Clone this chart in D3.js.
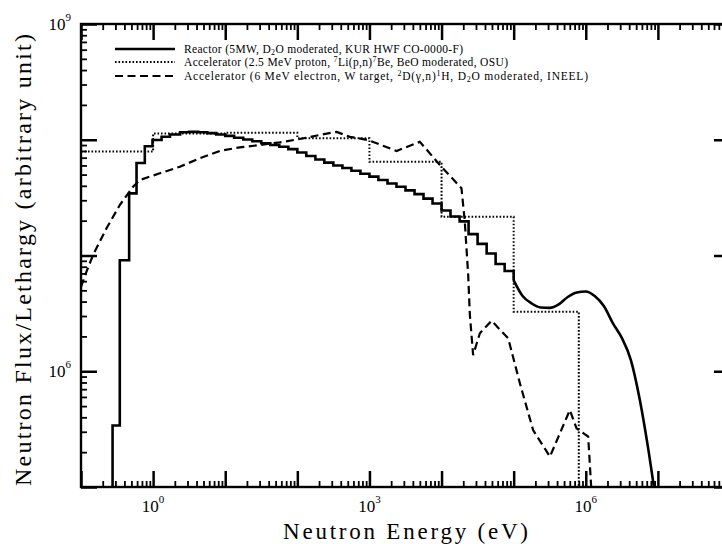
<!DOCTYPE html>
<html>
<head>
<meta charset="utf-8">
<script src="https://cdn.jsdelivr.net/npm/d3@7"></script>
<style>
  body { margin: 0; background: #fff; }
  svg { display: block; }
</style>
</head>
<body>
<script>
var width = 722;
var height = 544;

// plot box
var plotLeft = 81, plotRight = 730, plotTop = 24, plotBottom = 487;

// Reactor (stepped histogram, smooth above 100 keV)
var reactorE = [0.274, 0.345, 0.465, 0.589, 0.767, 0.98, 1.31, 1.71, 2.37, 3.16,
                4.22, 5.62, 7.5, 10, 13.3, 17.8, 23.7, 31.6, 42.2, 56.2,
                75, 100, 133, 178, 237, 316, 422, 562, 750, 1000,
                1330, 1780, 2370, 3160, 4220, 5620, 7500, 1e4, 1.33e4, 1.78e4,
                2.37e4, 3.16e4, 4.22e4, 5.62e4, 7.5e4, 1e5, 1.33e5, 1.78e5, 2.37e5, 3.16e5,
                4.22e5, 5.62e5, 7.5e5, 1e6, 1.33e6, 1.78e6, 2.37e6, 3.16e6, 4.22e6, 5.62e6,
                7.5e6, 9.3e6];
var reactorFlux = [3.4e5, 9.1e6, 3.44e7, 6.3e7, 8.8e7, 9.95e7, 1.06e8, 1.11e8, 1.16e8, 1.17e8,
                   1.16e8, 1.14e8, 1.11e8, 1.08e8, 1.04e8, 1.005e8, 9.7e7, 9.33e7, 9.0e7, 8.7e7,
                   8.3e7, 7.76e7, 7.24e7, 6.75e7, 6.35e7, 6.0e7, 5.7e7, 5.4e7, 5.08e7, 4.8e7,
                   4.49e7, 4.19e7, 3.93e7, 3.65e7, 3.39e7, 3.1e7, 2.81e7, 2.45e7, 2.17e7, 1.97e7,
                   1.53e7, 1.26e7, 1.04e7, 8.45e6, 7.35e6, 6.1e6, 4.47e6, 3.85e6, 3.56e6, 3.53e6,
                   3.78e6, 4.38e6, 4.79e6, 4.89e6, 4.47e6, 3.66e6, 2.61e6, 1.94e6, 1.25e6, 5.65e5,
                   1.97e5, 8e4];
var reactorSmoothFrom = 1e5;

// Accelerator, 2.5 MeV proton (bins)
var protonEdges = [0.1, 1, 10, 100, 1e3, 1e4, 1e5, 8e5];
var protonFlux = [7.9e7, 1.13e8, 1.15e8, 1.03e8, 6.45e7, 2.16e7, 3.27e6];

// Accelerator, 6 MeV electron
var electronE = [0.1, 0.119, 0.147, 0.226, 0.345, 0.528, 0.654, 1.24, 2.35, 4.45,
                 8.42, 15.9, 30.2, 57.2, 108, 205, 350, 535, 959, 2380,
                 5000, 9480, 1.89e4, 2.1e4, 2.34e4, 2.47e4, 2.74e4, 3.4e4, 4.93e4, 8.39e4,
                 1.22e5, 1.86e5, 3.18e5, 6.01e5, 7.45e5, 1.08e6, 1.27e6];
var electronFlux = [5.35e6, 7.24e6, 1.01e7, 1.72e7, 2.73e7, 3.93e7, 4.49e7, 5.13e7, 5.85e7, 6.92e7,
                    8.0e7, 8.6e7, 9.0e7, 9.5e7, 1.015e8, 1.10e8, 1.17e8, 1.06e8, 9.95e7, 8.0e7,
                    9.6e7, 6.05e7, 3.81e7, 1.96e7, 6.79e6, 3.06e6, 1.38e6, 2.13e6, 2.73e6, 1.93e6,
                    7.87e5, 3.10e5, 1.83e5, 4.62e5, 3.21e5, 2.72e5, 5e4];

// tick labels (powers of ten)
var xLabelExps = [0, 3, 6];
var yLabelExps = [6, 9];

var legendEntries = [
  [["Reactor (5MW, D", ""], ["2", "sub"], ["O moderated, KUR HWF CO-0000-F)", ""]],
  [["Accelerator (2.5 MeV proton, ", ""], ["7", "super"], ["Li(p,n)", ""], ["7", "super"], ["Be, BeO moderated, OSU)", ""]],
  [["Accelerator (6 MeV electron, W target, ", ""], ["2", "super"], ["D(\u03b3,n)", ""], ["1", "super"], ["H, D", ""], ["2", "sub"], ["O moderated, INEEL)", ""]]
];
var legendDash = ["none", "1.6,1.9", "8,4.5"];
var legendWidth = [2.6, 2, 2.2];
var legendTextLen = [279, 324, 404];

var xScale = d3.scaleLog().domain([1e-1, 1e8]).range([plotLeft, plotRight]);
var yScale = d3.scaleLog().domain([1e5, 1e9]).range([plotBottom, plotTop]);

var svg = d3.select("body")
  .append("svg")
  .attr("width", width)
  .attr("height", height)
  .style("font-family", "'Liberation Serif', 'DejaVu Serif', serif");

svg.append("defs").append("clipPath").attr("id", "plotclip")
  .append("rect")
  .attr("x", plotLeft).attr("y", plotTop)
  .attr("width", plotRight - plotLeft).attr("height", plotBottom - plotTop);

// data
var plot = svg.append("g").attr("clip-path", "url(#plotclip)");

// reactor: steps below 100 keV, smooth above
var stepPts = [[reactorE[0], 1e4]];
var smoothPts = [];
reactorE.forEach(function(e, i) {
  if (e < reactorSmoothFrom) stepPts.push([e, reactorFlux[i]]);
  else {
    if (smoothPts.length === 0) stepPts.push([e, reactorFlux[i]]);
    smoothPts.push([e, reactorFlux[i]]);
  }
});
var lineStep = d3.line()
  .x(function(d) { return xScale(d[0]); })
  .y(function(d) { return yScale(d[1]); })
  .curve(d3.curveStepAfter);
var lineSmooth = d3.line()
  .x(function(d) { return xScale(d[0]); })
  .y(function(d) { return yScale(d[1]); })
  .curve(d3.curveMonotoneX);

plot.append("path").attr("d", lineStep(stepPts))
  .attr("fill", "none").attr("stroke", "#000").attr("stroke-width", 2.6);
plot.append("path").attr("d", lineSmooth(smoothPts))
  .attr("fill", "none").attr("stroke", "#000").attr("stroke-width", 2.6);

// proton histogram
var protonPts = protonFlux.map(function(f, i) { return [protonEdges[i], f]; });
protonPts.push([protonEdges[protonEdges.length - 1], 1e4]);
plot.append("path").attr("d", lineStep(protonPts))
  .attr("fill", "none").attr("stroke", "#000")
  .attr("stroke-width", 2).attr("stroke-dasharray", legendDash[1]);

// electron curve
var electronPts = electronE.map(function(e, i) { return [e, electronFlux[i]]; });
var lineLin = d3.line()
  .x(function(d) { return xScale(d[0]); })
  .y(function(d) { return yScale(d[1]); });
plot.append("path").attr("d", lineLin(electronPts))
  .attr("fill", "none").attr("stroke", "#000")
  .attr("stroke-width", 2.2).attr("stroke-dasharray", legendDash[2]);

// frame
svg.append("rect")
  .attr("x", plotLeft).attr("y", plotTop)
  .attr("width", plotRight - plotLeft).attr("height", plotBottom - plotTop)
  .attr("fill", "none")
  .attr("stroke", "#000")
  .attr("stroke-width", 2.4);

// ticks: majors every decade, minors at 2..9, all pointing inward
var majX = d3.range(-1, 9).map(function(p) { return Math.pow(10, p); });
var minX = [];
d3.range(-1, 8).forEach(function(p) {
  for (var k = 2; k < 10; k++) minX.push(k * Math.pow(10, p));
});
var majY = d3.range(5, 10).map(function(p) { return Math.pow(10, p); });
var minY = [];
d3.range(5, 9).forEach(function(p) {
  for (var k = 2; k < 10; k++) minY.push(k * Math.pow(10, p));
});

function tickSet(axisFn, scale, values, size, sw, transform) {
  var g = svg.append("g")
    .attr("transform", transform);
  g.call(axisFn(scale).tickValues(values).tickSize(-size).tickFormat(function() { return ""; }));
  g.select(".domain").remove();
  g.selectAll("line")
    .style("stroke", "#000")
    .style("stroke-width", sw + "px");
}
tickSet(d3.axisBottom, xScale, minX, 6, 1.8, "translate(0," + plotBottom + ")");
tickSet(d3.axisBottom, xScale, majX, 16, 2.5, "translate(0," + plotBottom + ")");
tickSet(d3.axisTop, xScale, minX, 6, 1.8, "translate(0," + plotTop + ")");
tickSet(d3.axisTop, xScale, majX, 16, 2.5, "translate(0," + plotTop + ")");
tickSet(d3.axisLeft, yScale, minY, 6, 1.8, "translate(" + plotLeft + ",0)");
tickSet(d3.axisLeft, yScale, majY, 16, 2.5, "translate(" + plotLeft + ",0)");
tickSet(d3.axisRight, yScale, minY, 6, 1.8, "translate(" + plotRight + ",0)");
tickSet(d3.axisRight, yScale, majY, 16, 2.5, "translate(" + plotRight + ",0)");

// tick labels
xLabelExps.forEach(function(e) {
  var t = svg.append("text")
    .attr("x", xScale(Math.pow(10, e)))
    .attr("y", 512)
    .attr("text-anchor", "middle")
    .attr("font-size", "17px");
  t.append("tspan").text("10");
  t.append("tspan").attr("font-size", "11px").attr("dy", -9).text(e);
});
yLabelExps.forEach(function(e) {
  var t = svg.append("text")
    .attr("x", 71)
    .attr("y", yScale(Math.pow(10, e)) + 6)
    .attr("text-anchor", "end")
    .attr("font-size", "17px");
  t.append("tspan").text("10");
  t.append("tspan").attr("font-size", "11px").attr("dy", -9).text(e);
});

// axis titles
svg.append("text")
  .attr("x", (plotLeft + plotRight) / 2)
  .attr("y", 539)
  .attr("text-anchor", "middle")
  .attr("font-size", "23px")
  .attr("textLength", 245)
  .attr("lengthAdjust", "spacing")
  .text("Neutron Energy (eV)");

svg.append("text")
  .attr("transform", "translate(31,260) rotate(-90)")
  .attr("text-anchor", "middle")
  .attr("font-size", "24px")
  .attr("textLength", 452)
  .attr("lengthAdjust", "spacing")
  .text("Neutron Flux/Lethargy (arbitrary unit)");

// legend
var legendY = [49, 62, 76];
legendEntries.forEach(function(parts, i) {
  svg.append("line")
    .attr("x1", 115).attr("x2", 175)
    .attr("y1", legendY[i]).attr("y2", legendY[i])
    .attr("stroke", "#000")
    .attr("stroke-width", legendWidth[i])
    .attr("stroke-dasharray", legendDash[i]);
  var t = svg.append("text")
    .attr("x", 184)
    .attr("y", legendY[i] + 4)
    .attr("font-size", "11.5px")
    .attr("textLength", legendTextLen[i])
    .attr("lengthAdjust", "spacing");
  parts.forEach(function(p) {
    var s = t.append("tspan").text(p[0]);
    if (p[1]) s.attr("baseline-shift", p[1] === "sub" ? "-2" : "4").attr("font-size", "8px");
  });
});
</script>
</body>
</html>
